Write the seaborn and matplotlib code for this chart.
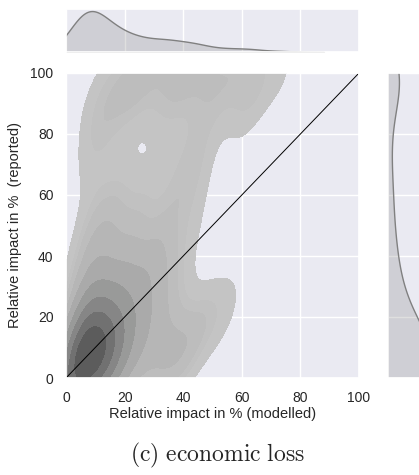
import matplotlib
matplotlib.use("Agg")
import matplotlib.pyplot as plt
import numpy as np
import pandas as pd
import seaborn as sns

# modelled vs reported relative impact (%) samples
core_modelled = [1, 1, 2, 2, 2, 3, 3, 3, 3, 4, 4, 4, 4, 5, 5, 5, 5, 5, 6, 6,
                 6, 6, 7, 7, 7, 7, 7, 8, 8, 8, 8, 9, 9, 9, 9, 10, 10, 10, 10, 11,
                 11, 11, 12, 12, 12, 12, 13, 13, 14, 14, 14, 15, 15, 16, 16, 17, 17, 18, 19, 20]
core_reported = [0, 3, 1, 6, 10, 0, 3, 8, 14, 1, 5, 11, 18, 0, 3, 7, 13, 22, 2, 5,
                 9, 16, 0, 4, 8, 12, 20, 1, 6, 10, 15, 2, 7, 12, 24, 0, 4, 9, 17, 3,
                 8, 14, 1, 6, 11, 21, 4, 9, 2, 7, 16, 5, 12, 0, 9, 4, 14, 7, 11, 2]
band_modelled = [22, 24, 26, 27, 29, 31, 33, 35, 37, 21, 23, 25, 28, 30, 19, 15, 11,
                 7, 5, 9, 14, 18, 33, 36, 22]
band_reported = [6, 14, 2, 18, 9, 22, 4, 13, 26, 20, 28, 34, 30, 38, 32, 28, 30,
                 28, 34, 40, 42, 24, 32, 8, 40]
upper_modelled = [8, 15, 22, 32, 42, 10, 18, 27, 36, 44, 10, 42, 12, 22, 36, 46, 10]
upper_reported = [46, 50, 48, 44, 48, 58, 62, 60, 60, 64, 74, 70, 84, 92, 90, 82, 92]
cap_modelled = [18, 22, 26, 30, 34, 38, 42, 46, 50, 54, 58, 62, 66, 62, 74]
cap_reported = [100, 97, 100, 98, 100, 100, 96, 100, 100, 98, 100, 100, 99, 88, 100]
lobe_modelled = [44, 49, 55, 42, 38]
lobe_reported = [16, 20, 22, 10, 4]

modelled = core_modelled + band_modelled + upper_modelled + cap_modelled + lobe_modelled
reported = core_reported + band_reported + upper_reported + cap_reported + lobe_reported
df = pd.DataFrame({"modelled": modelled, "reported": reported})

sns.set_theme(style="darkgrid")
plt.rcParams["font.family"] = ["Liberation Sans", "DejaVu Sans"]
plt.rcParams["mathtext.fontset"] = "cm"

W, H = 419, 475
fig = plt.figure(figsize=(W / 100, H / 100), dpi=100)

def pos(l, t, r, b):
    return [l / W, 1 - b / H, (r - l) / W, (b - t) / H]

ax = fig.add_axes(pos(66, 73, 359, 378))
ax_x = fig.add_axes(pos(66, 9, 359, 52), sharex=ax)
ax_y = fig.add_axes(pos(388, 73, 431, 378), sharey=ax)

bw = 0.75
sns.kdeplot(data=df, x="modelled", y="reported", fill=True, color="gray", bw_adjust=bw, ax=ax)
sns.kdeplot(data=df, x="modelled", fill=True, color="gray", bw_adjust=bw, ax=ax_x)
sns.kdeplot(data=df, y="reported", fill=True, color="gray", bw_adjust=bw, ax=ax_y)

ax.plot([0, 100], [0, 100], color="black", lw=0.7)
ax.set_xlim(0, 100)
ax.set_ylim(0, 100)
ax.set_xticks([0, 20, 40, 60, 80, 100])
ax.set_yticks([0, 20, 40, 60, 80, 100])
ax.tick_params(labelsize=10, pad=3)
ax.set_xlabel("Relative impact in % (modelled)", fontsize=10.5, labelpad=2)
ax.set_ylabel("Relative impact in %  (reported)", fontsize=10.5, labelpad=6)

for a in (ax_x, ax_y):
    a.set_xlabel("")
    a.set_ylabel("")
    plt.setp(a.get_xticklabels(), visible=False)
    plt.setp(a.get_yticklabels(), visible=False)
    a.tick_params(length=0)
ax_x.yaxis.grid(False)
ax_y.xaxis.grid(False)

fig.text(218 / W, 1 - 455 / H, r"$\mathrm{(c)\ economic\ loss}$", ha="center", va="center",
         fontsize=17)

fig.savefig("out.png", dpi=100)
